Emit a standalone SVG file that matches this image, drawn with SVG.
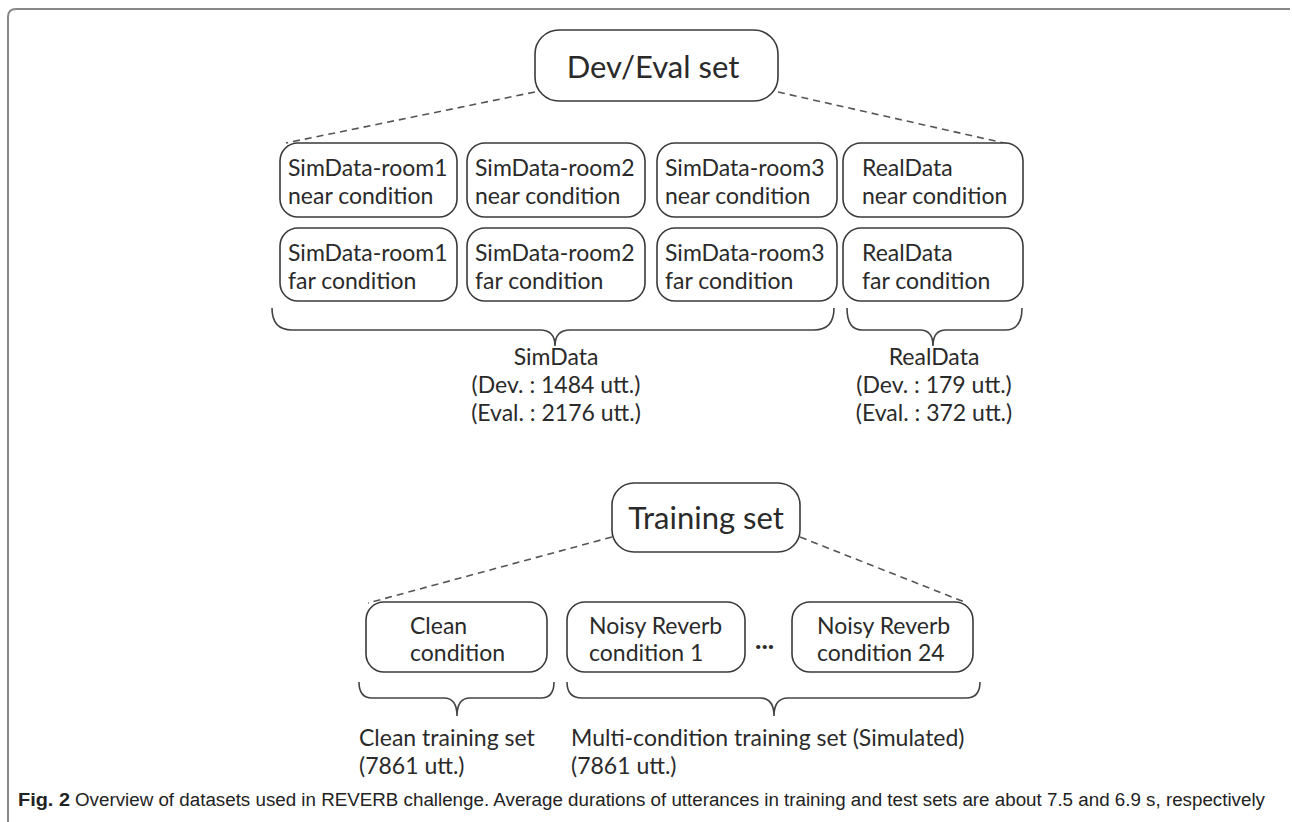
<svg xmlns="http://www.w3.org/2000/svg" width="1292" height="822" viewBox="0 0 1292 822">
<style>
.box{fill:#fff;stroke:#3a3a3a;stroke-width:1.6}
.t{font-family:Lato,"Open Sans",sans-serif;font-size:23px;fill:#2a2a2a}
.tc{text-anchor:middle}
.big{font-size:31px}
.dash{fill:none;stroke:#555;stroke-width:1.6;stroke-dasharray:7,5}
.brace{fill:none;stroke:#444;stroke-width:1.6}
.cap{font-family:"Liberation Sans",Arial,sans-serif;font-size:18px;fill:#222}
</style>
<rect x="0" y="0" width="1292" height="822" fill="#fff"/>
<path d="M8,822 L8,17 Q8,9 16,9 L1290,9" fill="none" stroke="#888" stroke-width="2"/>
<g id="connectors">
<line class="dash" x1="535" y1="92" x2="286" y2="143"/>
<line class="dash" x1="778" y1="92" x2="1013" y2="145"/>
<line class="dash" x1="612" y1="537" x2="368" y2="603"/>
<line class="dash" x1="800" y1="537" x2="967" y2="603"/>
<path class="brace" d="M272,308 Q272,330 292,330 L540,330 Q555,330 555,346 Q555,330 570,330 L814,330 Q834,330 834,308"/>
<path class="brace" d="M847,308 Q847,330 862,330 L920,330 Q933,330 933,346 Q933,330 946,330 L1005,330 Q1022,330 1022,308"/>
<path class="brace" d="M359,682 Q359,698 372,698 L444,698 Q457,698 457,716 Q457,698 470,698 L541,698 Q554,698 554,682"/>
<path class="brace" d="M567,682 Q567,698 582,698 L760,698 Q774,698 774,716 Q774,698 788,698 L966,698 Q980,698 980,682"/>
</g>
<g id="devEval">
<rect class="box" x="535" y="30" width="243" height="71" rx="24"/>
<text class="t tc big" x="653" y="78">Dev/Eval set</text>
</g>
<g id="sim1near"><rect class="box" x="280" y="143" width="177" height="74" rx="18"/><text class="t" x="288" y="176">SimData-room1</text><text class="t" x="288" y="204">near condition</text></g>
<g id="sim2near"><rect class="box" x="467" y="143" width="178" height="74" rx="18"/><text class="t" x="475" y="176">SimData-room2</text><text class="t" x="475" y="204">near condition</text></g>
<g id="sim3near"><rect class="box" x="657" y="143" width="180" height="74" rx="18"/><text class="t" x="665" y="176">SimData-room3</text><text class="t" x="665" y="204">near condition</text></g>
<g id="realnear"><rect class="box" x="843" y="143" width="180" height="74" rx="18"/><text class="t" x="862" y="176">RealData</text><text class="t" x="862" y="204">near condition</text></g>
<g id="sim1far"><rect class="box" x="280" y="228" width="177" height="73" rx="18"/><text class="t" x="288" y="261">SimData-room1</text><text class="t" x="288" y="289">far condition</text></g>
<g id="sim2far"><rect class="box" x="467" y="228" width="178" height="73" rx="18"/><text class="t" x="475" y="261">SimData-room2</text><text class="t" x="475" y="289">far condition</text></g>
<g id="sim3far"><rect class="box" x="657" y="228" width="180" height="73" rx="18"/><text class="t" x="665" y="261">SimData-room3</text><text class="t" x="665" y="289">far condition</text></g>
<g id="realfar"><rect class="box" x="843" y="228" width="180" height="73" rx="18"/><text class="t" x="862" y="261">RealData</text><text class="t" x="862" y="289">far condition</text></g>
<g id="simLabel">
<text class="t tc" x="556" y="365">SimData</text>
<text class="t tc" x="556" y="393">(Dev. : 1484 utt.)</text>
<text class="t tc" x="556" y="421">(Eval. : 2176 utt.)</text>
</g>
<g id="realLabel">
<text class="t tc" x="934" y="365">RealData</text>
<text class="t tc" x="934" y="393">(Dev. : 179 utt.)</text>
<text class="t tc" x="934" y="421">(Eval. : 372 utt.)</text>
</g>
<g id="training">
<rect class="box" x="612" y="483" width="188" height="69" rx="22"/>
<text class="t tc big" x="706" y="529">Training set</text>
</g>
<g id="clean"><rect class="box" x="366" y="602" width="181" height="70" rx="18"/><text class="t" x="410" y="634">Clean</text><text class="t" x="410" y="661">condition</text></g>
<g id="noisy1"><rect class="box" x="567" y="602" width="178" height="70" rx="18"/><text class="t" x="589" y="634">Noisy Reverb</text><text class="t" x="589" y="661">condition 1</text></g>
<g id="dots"><text class="t" x="755" y="649" style="font-weight:bold;font-size:27px">...</text></g>
<g id="noisy24"><rect class="box" x="792" y="602" width="181" height="70" rx="18"/><text class="t" x="817" y="634">Noisy Reverb</text><text class="t" x="817" y="661">condition 24</text></g>
<g id="cleanLabel"><text class="t" x="359" y="746">Clean training set</text><text class="t" x="359" y="774">(7861 utt.)</text></g>
<g id="multiLabel"><text class="t" x="571" y="746">Multi-condition training set (Simulated)</text><text class="t" x="571" y="774">(7861 utt.)</text></g>
<g id="caption"><text class="cap" x="18" y="806" font-weight="bold" textLength="52" lengthAdjust="spacingAndGlyphs">Fig. 2</text><text class="cap" x="75" y="806" textLength="1190" lengthAdjust="spacingAndGlyphs">Overview of datasets used in REVERB challenge. Average durations of utterances in training and test sets are about 7.5 and 6.9 s, respectively</text></g>
</svg>
